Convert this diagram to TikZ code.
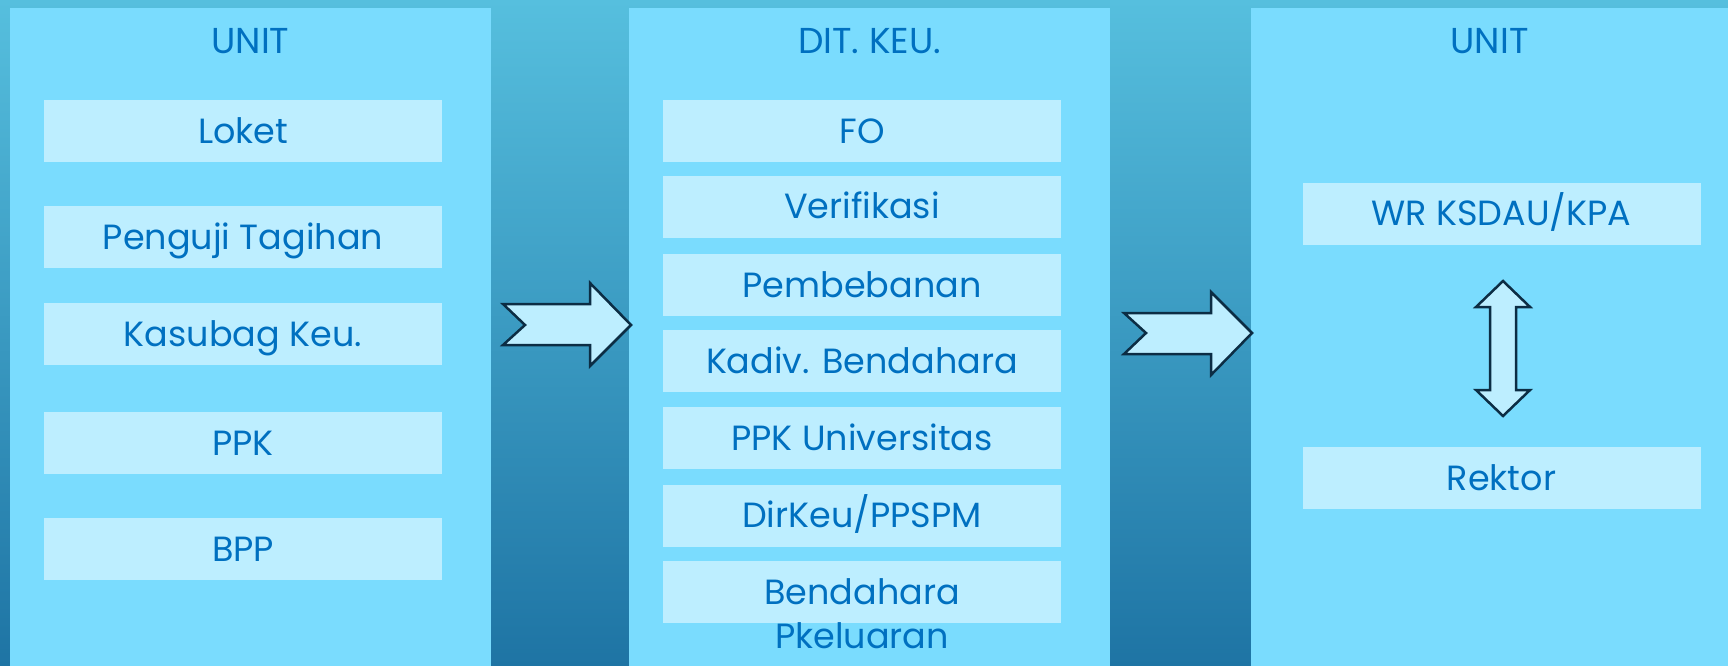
\documentclass[tikz,border=0pt]{standalone}
\usepackage{fontspec}
\setmainfont{Poppins}
\definecolor{bgtop}{HTML}{56BFDE}
\definecolor{bgbot}{HTML}{1E74A4}
\definecolor{panelc}{HTML}{7ADCFE}
\definecolor{itemc}{HTML}{BDEEFF}
\definecolor{txtc}{HTML}{0070C0}
\definecolor{arrowc}{HTML}{0C2D44}
\tikzset{
  panel/.style={fill=panelc, inner sep=0pt, outer sep=0pt, anchor=north west},
  item/.style={fill=itemc, inner sep=0pt, outer sep=0pt, minimum width=398pt, minimum height=62pt,
    text=txtc, font=\fontsize{35}{44}\selectfont, text height=24.5pt, text depth=0pt},
  ttl/.style={text=txtc, font=\fontsize{36}{42}\selectfont, inner sep=0pt, text height=25pt, text depth=0pt},
  blk/.style={draw=arrowc, fill=itemc, line width=2.5pt, line join=miter},
}
\begin{document}
\begin{tikzpicture}[x=1pt,y=-1pt]
\useasboundingbox (0,0) rectangle (1728,666);
\shade[top color=bgtop, bottom color=bgbot] (0,0) rectangle (1728,666);
% panels
\node[panel, minimum width=481pt, minimum height=658pt] (p1) at (10,8) {};
\node[panel, minimum width=481pt, minimum height=658pt] (p2) at (629,8) {};
\node[panel, minimum width=477pt, minimum height=658pt] (p3) at (1251,8) {};
% titles
\node[ttl] (t1) at (250.5,41) {UNIT};
\node[ttl] (t2) at (869.5,41) {DIT. KEU.};
\node[ttl] (t3) at (1489.5,41) {UNIT};
% left column
\node[item] (a1) at (243,131) {Loket};
\node[item] (a2) at (243,237) {Penguji Tagihan};
\node[item] (a3) at (243,334) {Kasubag Keu.};
\node[item] (a4) at (243,443) {PPK};
\node[item] (a5) at (243,549) {BPP};
% middle column
\node[item] (b1) at (862,131) {FO};
\node[item] (b2) at (862,206.5) {Verifikasi};
\node[item] (b3) at (862,285) {Pembebanan};
\node[item] (b4) at (862,361) {Kadiv. Bendahara};
\node[item] (b5) at (862,438) {PPK Universitas};
\node[item] (b6) at (862,515.5) {DirKeu/PPSPM};
\node[item] (b7) at (862,592) {};
\node[text=txtc, font=\fontsize{35}{44}\selectfont, align=center, inner sep=0pt, anchor=north]
  (b7t) at (862,578) {Bendahara\\Pkeluaran};
% right column
\node[item] (c1) at (1501.5,213.5) {WR KSDAU/KPA};
\node[item] (c2) at (1501.5,478) {Rektor};
% block arrows
\draw[blk] (503,304) -- (590,304) -- (590,283) -- (631,325) -- (590,366) -- (590,345)
  -- (503,345) -- (525,325) -- cycle;
\draw[blk] (1124,313) -- (1211,313) -- (1211,292) -- (1252,333) -- (1211,375) -- (1211,354)
  -- (1124,354) -- (1146,333) -- cycle;
\draw[blk] (1503,281) -- (1530,307) -- (1516,307) -- (1516,390) -- (1530,390) -- (1503,416)
  -- (1476,390) -- (1490,390) -- (1490,307) -- (1476,307) -- cycle;
\end{tikzpicture}
\end{document}
